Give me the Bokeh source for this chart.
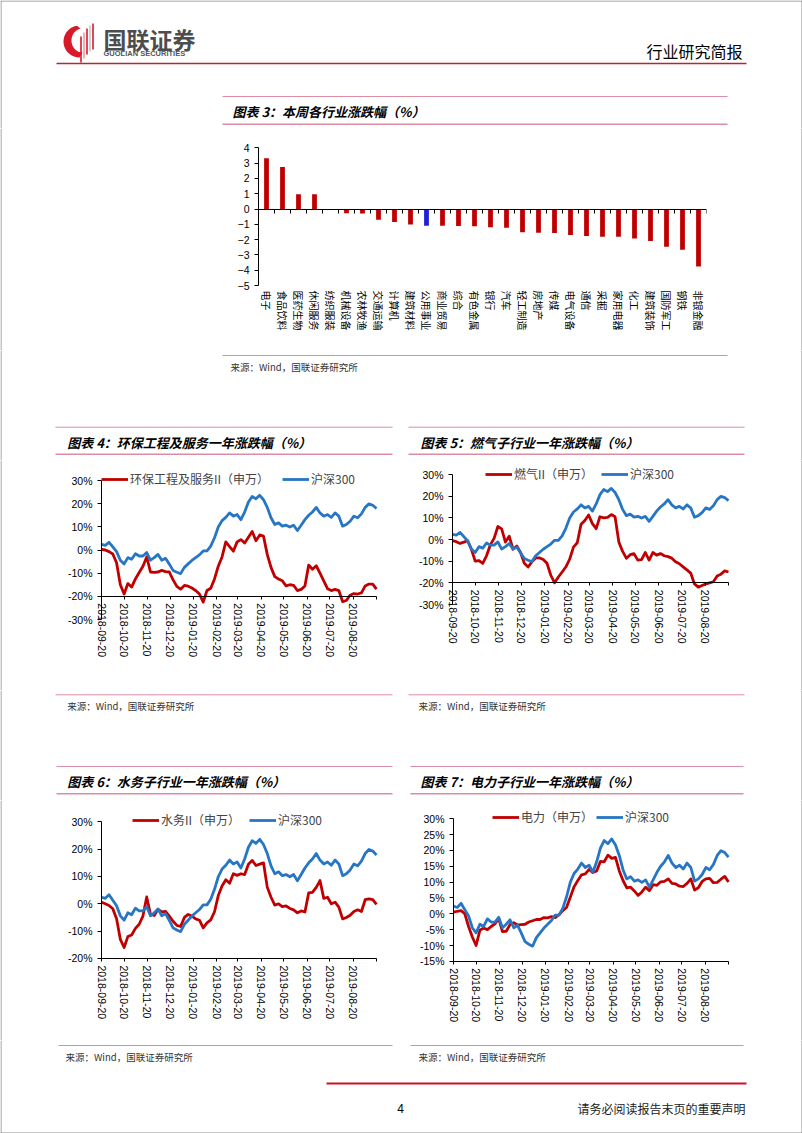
import numpy as np
import pandas as pd
from bokeh.plotting import figure
from bokeh.layouts import row, column
from bokeh.models import Range1d, FixedTicker, Legend, LegendItem, LinearAxis
from bokeh.core.properties import value
from bokeh.embed import file_html
from bokeh.resources import INLINE

# ---------------- data ----------------
industries = ["电子", "食品饮料", "医药生物", "休闲服务", "纺织服装", "机械设备", "农林牧渔",
              "交通运输", "计算机", "建筑材料", "公用事业", "商业贸易", "综合", "有色金属",
              "银行", "汽车", "轻工制造", "房地产", "传媒", "电气设备", "通信", "采掘",
              "家用电器", "化工", "建筑装饰", "国防军工", "钢铁", "非银金融"]
weekly_change = [3.31, 2.74, 0.96, 0.96, -0.07, -0.28, -0.30, -0.70, -0.85, -1.02, -1.09,
                 -1.09, -1.11, -1.13, -1.20, -1.22, -1.52, -1.55, -1.57, -1.70, -1.76,
                 -1.81, -1.81, -1.92, -2.09, -2.46, -2.66, -3.75]
highlight = "公用事业"

start_date = "2018-09-20"
dates = pd.date_range(start_date, periods=74, freq="5D")
month_labels = ["2018-09-20", "2018-10-20", "2018-11-20", "2018-12-20", "2019-01-20",
                "2019-02-20", "2019-03-20", "2019-04-20", "2019-05-20", "2019-06-20",
                "2019-07-20", "2019-08-20"]
axis_end = "2019-09-20"

hs300 = [2.4, 2.0, 3.3, 1.3, -0.7, -4.4, -6.0, -3.3, -4.0, -1.6,
         -2.6, -2.6, -1.1, -4.4, -3.3, -1.9, -4.4, -3.6, -6.1, -8.8,
         -9.6, -10.2, -7.5, -6.0, -4.5, -3.3, -2.1, -0.4, -0.4, 1.7,
         5.3, 9.9, 12.7, 14.1, 16.0, 14.6, 15.3, 13.1, 16.4, 20.7,
         23.1, 22.1, 23.6, 21.7, 18.4, 13.9, 11.0, 11.7, 10.3, 10.7,
         9.9, 10.7, 8.4, 10.7, 13.1, 15.0, 16.4, 18.4, 16.0, 14.6,
         15.3, 14.1, 16.0, 14.6, 10.3, 11.0, 12.4, 14.6, 13.9, 15.6,
         18.4, 19.9, 19.3, 17.9]
env_eng = [0.3, 0.0, -0.7, -1.7, -5.5, -15.0, -19.0, -14.5, -16.0, -12.5,
           -9.7, -7.0, -3.0, -9.5, -9.7, -9.5, -8.8, -9.3, -9.5, -12.9,
           -15.7, -16.9, -15.3, -15.6, -16.4, -17.5, -19.0, -22.5, -17.5, -16.5,
           -12.5, -7.0, -3.0, 3.5, 1.5, -0.5, 3.5, 4.5, 3.0, 5.5,
           8.0, 4.0, 6.5, 6.0, -1.9, -7.5, -11.5, -12.5, -13.3, -15.5,
           -15.0, -15.3, -17.5, -17.0, -15.5, -6.5, -8.3, -6.8, -10.0, -13.3,
           -16.7, -17.5, -17.0, -17.5, -22.3, -21.8, -19.5, -18.8, -19.0, -18.5,
           -15.5, -14.7, -14.7, -16.9]
gas = [-0.5, -1.0, -1.8, -1.2, -0.5, -4.5, -10.0, -9.7, -11.0, -7.5,
       -2.5, 0.5, 6.0, 4.9, -1.2, 1.5, -4.5, -3.0, -6.0, -11.0,
       -12.7, -10.3, -8.5, -8.5, -9.2, -11.0, -16.5, -20.0, -17.3, -15.0,
       -12.6, -9.0, -3.5, -1.5, 7.0, 8.8, 11.3, 7.3, 5.0, 10.5,
       10.0, 10.2, 11.5, 10.5, -1.2, -5.5, -8.7, -7.0, -6.5, -9.5,
       -9.3, -6.0, -9.5, -6.0, -7.2, -6.5, -7.5, -7.9, -8.6, -10.3,
       -11.2, -12.6, -14.0, -15.5, -20.5, -22.0, -21.2, -20.5, -20.0, -19.5,
       -16.8, -16.0, -14.5, -15.0]
water = [0.6, 0.0, -0.6, -1.8, -5.5, -13.0, -16.0, -12.0, -11.4, -9.0,
         -7.5, -4.5, 2.5, -3.8, -4.3, -2.0, -3.0, -2.8, -4.5, -6.4,
         -7.9, -8.3, -5.0, -3.9, -4.5, -5.5, -6.0, -8.8, -7.0, -5.9,
         -2.9, 3.0, 6.5, 8.8, 7.5, 11.0, 10.4, 11.0, 10.7, 14.5,
         15.9, 14.0, 14.5, 15.0, 6.1, 2.4, -0.5, 0.0, -1.0, -0.8,
         -1.7, -2.2, -3.3, -2.6, -3.0, 4.0, 4.2, 6.0, 8.5, 2.0,
         2.4, 0.0, 0.6, -1.2, -5.5, -5.0, -4.2, -2.8, -2.2, -2.8,
         1.5, 1.8, 1.5, -0.2]
power = [0.5, 0.8, 1.0, 0.0, -4.0, -7.3, -10.0, -5.2, -4.5, -5.0,
         -4.0, -3.2, -1.5, -5.6, -5.5, -3.4, -2.8, -3.5, -3.4, -3.3,
         -2.6, -2.2, -1.8, -1.8, -1.2, -1.3, -0.9, -1.2, -0.3, 1.0,
         2.0, 5.2, 8.5, 10.5, 12.3, 12.6, 14.0, 13.0, 13.5, 16.5,
         16.4, 18.5, 17.5, 17.8, 13.5, 10.5, 8.2, 8.4, 7.2, 5.8,
         6.9, 8.4, 7.3, 9.2, 9.0, 10.1, 10.2, 11.0, 9.6, 9.4,
         8.7, 8.6, 9.6, 11.0, 7.5, 8.2, 10.2, 11.0, 11.2, 9.8,
         9.9, 10.9, 11.8, 10.0]

# ---------------- styles ----------------
PAGE_W, PAGE_H = 802, 1133
CJK = "Noto Sans CJK SC"
LAT = "Liberation Sans"
RED = "#C00000"
BLUE = "#2676C5"
BARBLUE = "#2020D8"
PINK = "#DC8CA3"
HDRRED = "#B5262F"
GRAY = "#8a8a8a"

t0 = pd.Timestamp(start_date)
days = [(d - t0).days for d in dates]
tick_days = [(pd.Timestamp(t) - t0).days for t in month_labels]
end_day = (pd.Timestamp(axis_end) - t0).days


def canvas(x0, x1, y0, y1):
    f = figure(width=x1 - x0, height=y1 - y0, x_range=Range1d(x0, x1), y_range=Range1d(y1, y0),
               output_backend="svg", toolbar_location=None, min_border=0,
               x_axis_location=None, y_axis_location=None)
    f.xgrid.visible = False
    f.ygrid.visible = False
    f.outline_line_color = None
    f.background_fill_color = "white"
    f.border_fill_color = "white"
    if x0 == 0:
        f.segment(x0=[0.5], y0=[y0], x1=[0.5], y1=[y1], line_color=GRAY, line_width=1)
    if x1 == PAGE_W:
        f.segment(x0=[PAGE_W - 0.5], y0=[y0], x1=[PAGE_W - 0.5], y1=[y1], line_color=GRAY, line_width=1)
    if y0 == 0:
        f.segment(x0=[x0], y0=[0.5], x1=[x1], y1=[0.5], line_color=GRAY, line_width=1)
    if y1 == PAGE_H:
        f.segment(x0=[x0], y0=[PAGE_H - 0.5], x1=[x1], y1=[PAGE_H - 0.5], line_color=GRAY, line_width=1)
    return f


def txt(f, x, y, s, size, font=CJK, style="normal", color="black", align="left"):
    f.text(x=[x], y=[y], text=[s], text_font=value(font), text_font_size=value(f"{size}px"),
           text_font_style=style, text_color=color, text_align=align, text_baseline="middle")


def hline(f, x0, x1, y, color=PINK, width=1.0):
    f.segment(x0=[x0], y0=[y], x1=[x1], y1=[y], line_color=color, line_width=width)


def title(f, x, y, s):
    txt(f, x, y, s, 13, style="bold italic")


def source(f, x, y):
    txt(f, x, y, "来源：Wind，国联证券研究所", 9.5, color="#333333")


def style_yaxis(ya, ticks, bounds, overrides=None):
    ya.ticker = FixedTicker(ticks=ticks)
    ya.bounds = bounds
    if overrides:
        ya.major_label_overrides = overrides
    ya.major_tick_out = 4
    ya.major_tick_in = 0
    ya.minor_tick_line_color = None
    ya.major_label_standoff = 5
    ya.major_label_text_font = LAT
    ya.major_label_text_font_size = "10.5px"
    ya.major_label_text_color = "black"
    ya.axis_line_color = "black"


# ---------------- header strip ----------------
s1 = canvas(0, PAGE_W, 0, 128)
ang = np.linspace(np.pi * 0.55, np.pi * 1.5, 40)
ox = 79 + 16 * np.cos(ang)
oy = 41 - 16 * np.sin(ang)
ix = 82 + 11 * np.cos(ang[::-1])
iy = 40 - 12 * np.sin(ang[::-1])
s1.patch(x=list(ox) + list(ix), y=list(oy) + list(iy), fill_color="#D7192A", line_color=None)
for bx, top, col in [(80.5, 36, "#D7192A"), (83.5, 32, "#E8A0A6"), (86.5, 28, "#D7192A"),
                     (89.5, 25, "#C8C8C8"), (92.5, 23, "#D7192A")]:
    s1.segment(x0=[bx], y0=[top], x1=[bx], y1=[top + 26], line_color=col, line_width=1.6)
txt(s1, 103, 38, "国联证券", 23, style="bold", color="#4D4D4D")
txt(s1, 103, 53, "GUOLIAN SECURITIES", 7.5, font=LAT, style="bold", color="#555555")
txt(s1, 742, 50, "行业研究简报", 16, align="right")
hline(s1, 56, 746, 63, color=HDRRED, width=1.6)
hline(s1, 222, 727, 96)
title(s1, 232, 111, "图表 3：本周各行业涨跌幅（%）")
hline(s1, 222, 727, 123.7, width=1.5)

# ---------------- bar chart (frame fills the whole figure height) ----------------
n = len(industries)
centers = [i + 0.5 for i in range(n)]
bounds = list(range(n + 1))
bar_colors = [BARBLUE if name == highlight else RED for name in industries]
R2_TOP, R2_BOT = 128, 350
bar_px = 15.3          # pixels per 1 %
bar_zero = 208.5       # page y of 0
p3 = figure(width=505, height=R2_BOT - R2_TOP, x_range=Range1d(0, n),
            y_range=Range1d((bar_zero - R2_BOT) / bar_px, (bar_zero - R2_TOP) / bar_px),
            output_backend="svg", toolbar_location=None,
            min_border_left=36, min_border_right=21, min_border_top=0, min_border_bottom=0)
p3.xgrid.visible = False
p3.ygrid.visible = False
p3.outline_line_color = None
p3.vbar(x=centers, top=weekly_change, bottom=0, width=0.3, fill_color=bar_colors, line_color=None)
xa = p3.xaxis[0]
xa.fixed_location = -5
xa.ticker = FixedTicker(ticks=centers)
xa.major_label_overrides = {c: name for c, name in zip(centers, industries)}
xa.major_label_orientation = "vertical"
xa.axis_line_color = None
xa.major_tick_line_color = None
xa.minor_tick_line_color = None
xa.major_tick_out = 0
xa.major_tick_in = 0
xa.major_label_standoff = 5
xa.major_label_text_font = CJK
xa.major_label_text_font_size = "10px"
xa.major_label_text_color = "black"
zero_axis = LinearAxis(fixed_location=0, ticker=FixedTicker(ticks=bounds),
                       major_label_overrides={b: "" for b in bounds},
                       major_tick_out=4, major_tick_in=0, minor_tick_line_color=None,
                       axis_line_color="black", major_label_text_font_size="1px")
p3.add_layout(zero_axis, "below")
style_yaxis(p3.yaxis[0], list(range(-5, 5)), (-5, 4))

row2 = row(canvas(0, 222, R2_TOP, R2_BOT), p3, canvas(727, PAGE_W, R2_TOP, R2_BOT))

# ---------------- strip 3 ----------------
s3 = canvas(0, PAGE_W, 350, 460)
hline(s3, 222, 727, 355)
source(s3, 230, 366)
hline(s3, 55, 392, 426.7)
hline(s3, 408, 744, 426.7)
title(s3, 66.7, 442, "图表 4：环保工程及服务一年涨跌幅（%）")
title(s3, 420, 442, "图表 5：燃气子行业一年涨跌幅（%）")
hline(s3, 55, 392, 453.7, width=1.5)
hline(s3, 408, 744, 453.7, width=1.5)


# ---------------- line charts ----------------
def line_chart(name, series, ylo, yhi, ystep, w, top, bot, bl, br, px, zero_y, axis_at,
               leg_x, leg_cy, leg_sp):
    ppd = (w - bl - br) / end_day      # pixels per day inside the plotted span
    p = figure(width=w, height=bot - top,
               x_range=Range1d(-bl / ppd, end_day + br / ppd),
               y_range=Range1d((zero_y - bot) / px, (zero_y - top) / px),
               output_backend="svg", toolbar_location=None, min_border=0)
    p.xgrid.visible = False
    p.ygrid.visible = False
    p.outline_line_color = None
    r1 = p.line(x=days, y=series, line_color=RED, line_width=2.8, line_join="round")
    r2 = p.line(x=days, y=hs300, line_color=BLUE, line_width=2.8, line_join="round")
    leg = Legend(items=[LegendItem(label=name, renderers=[r1]), LegendItem(label="沪深300", renderers=[r2])],
                 location=(bl + leg_x, bot - leg_cy - 7), orientation="horizontal", spacing=leg_sp,
                 padding=0, margin=0, label_standoff=2, glyph_width=27, glyph_height=12,
                 label_height=12, label_text_font=CJK, label_text_font_size="12px",
                 border_line_color=None, background_fill_alpha=0)
    p.add_layout(leg)
    xa = p.xaxis[0]
    xa.fixed_location = axis_at
    xa.bounds = (0, end_day)
    xa.ticker = FixedTicker(ticks=tick_days + [end_day])
    ov = {d: lab for d, lab in zip(tick_days, month_labels)}
    ov[end_day] = ""
    xa.major_label_overrides = ov
    xa.major_label_orientation = "vertical"
    xa.major_tick_out = 3
    xa.major_tick_in = 0
    xa.minor_tick_line_color = None
    xa.major_label_standoff = 4
    xa.major_label_text_font = LAT
    xa.major_label_text_font_size = "10.5px"
    xa.major_label_text_color = "black"
    xa.axis_line_color = "black"
    yticks = list(range(ylo, yhi + 1, ystep))
    ya = p.yaxis[0]
    ya.fixed_location = 0
    style_yaxis(ya, yticks, (ylo, yhi), {v: f"{v}%" for v in yticks})
    return p


R4_TOP, R4_BOT = 460, 690
p4 = line_chart("环保工程及服务II（申万）", env_eng, -30, 30, 10, 340, R4_TOP, R4_BOT, 51, 14,
                139 / 60, 549.5, -20, 0, 480, 13)
p5 = line_chart("燃气II（申万）", gas, -30, 30, 10, 340, R4_TOP, R4_BOT, 47, 17,
                130 / 60, 539, -20, 33, 475, 8)
row4 = row(canvas(0, 50, R4_TOP, R4_BOT), p4, canvas(390, 405, R4_TOP, R4_BOT), p5,
           canvas(745, PAGE_W, R4_TOP, R4_BOT))

s5 = canvas(0, PAGE_W, 690, 800)
hline(s5, 55, 392, 694.3)
hline(s5, 408, 744, 694.3)
source(s5, 66.7, 705.7)
source(s5, 418, 705.7)
hline(s5, 56, 392, 766)
hline(s5, 410, 743, 766)
title(s5, 66.7, 781, "图表 6：水务子行业一年涨跌幅（%）")
title(s5, 420, 781, "图表 7：电力子行业一年涨跌幅（%）")
hline(s5, 56, 392, 793.3, width=1.5)
hline(s5, 410, 743, 793.3, width=1.5)

R6_TOP, R6_BOT = 800, 1040
p6 = line_chart("水务II（申万）", water, -20, 30, 10, 340, R6_TOP, R6_BOT, 51, 14,
                136.6 / 50, 903.3, -20, 31, 821, 9)
p7 = line_chart("电力（申万）", power, -15, 30, 5, 340, R6_TOP, R6_BOT, 48, 17,
                142.7 / 45, 913.3, -15, 39, 818, 3)
row6 = row(canvas(0, 50, R6_TOP, R6_BOT), p6, canvas(390, 405, R6_TOP, R6_BOT), p7,
           canvas(745, PAGE_W, R6_TOP, R6_BOT))

s7 = canvas(0, PAGE_W, 1040, PAGE_H)
hline(s7, 58, 392, 1045)
hline(s7, 410, 743, 1045)
source(s7, 65, 1056)
source(s7, 418, 1056)
hline(s7, 326, 746, 1083, color="#D01020", width=2)
txt(s7, 400, 1108, "4", 12, font=LAT, align="center")
txt(s7, 745, 1108, "请务必阅读报告末页的重要声明", 12, align="right", color="#222222")

page = column(s1, row2, s3, row4, s5, row6, s7)
open("out.html", "w").write(file_html(page, INLINE))
